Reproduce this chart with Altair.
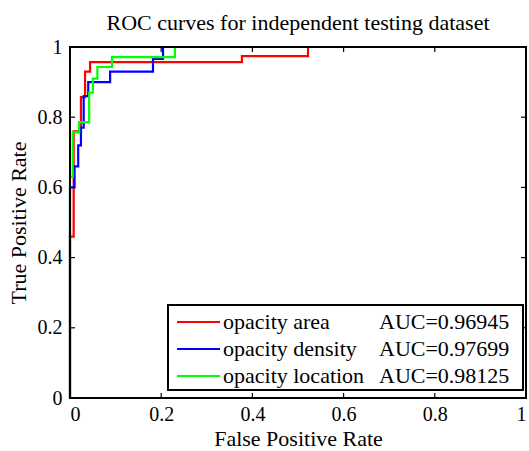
import altair as alt
import pandas as pd

series = ["opacity area", "opacity density", "opacity location"]
auc_labels = ["AUC=0.96945", "AUC=0.97699", "AUC=0.98125"]
colors = ["#ff0000", "#0000ff", "#00ff00"]

area_fpr = [0, 0, 0.008, 0.008, 0.024, 0.024, 0.033, 0.033, 0.044, 0.044, 0.377, 0.377, 0.522, 0.522, 1]
area_tpr = [0, 0.46, 0.46, 0.76, 0.76, 0.857, 0.857, 0.93, 0.93, 0.957, 0.957, 0.974, 0.974, 1, 1]

density_fpr = [0, 0, 0.01, 0.01, 0.018, 0.018, 0.024, 0.024, 0.03, 0.03, 0.04, 0.04, 0.088, 0.088, 0.182, 0.182, 0.204, 0.204, 1]
density_tpr = [0, 0.6, 0.6, 0.66, 0.66, 0.72, 0.72, 0.77, 0.77, 0.86, 0.86, 0.9, 0.9, 0.93, 0.93, 0.966, 0.966, 1, 1]

location_fpr = [0, 0, 0.006, 0.006, 0.02, 0.02, 0.042, 0.042, 0.05, 0.05, 0.06, 0.06, 0.092, 0.092, 0.23, 0.23, 1]
location_tpr = [0, 0.63, 0.63, 0.757, 0.757, 0.786, 0.786, 0.87, 0.87, 0.91, 0.91, 0.943, 0.943, 0.971, 0.971, 1, 1]

tick_values = [0, 0.2, 0.4, 0.6, 0.8, 1]

FONT = "'Liberation Serif', 'Times New Roman', Times, serif"
W, H = 456, 351

rows = []
for name, xs, ys in [(series[0], area_fpr, area_tpr),
                     (series[1], density_fpr, density_tpr),
                     (series[2], location_fpr, location_tpr)]:
    for i, (a, b) in enumerate(zip(xs, ys)):
        rows.append({"series": name, "fpr": a, "tpr": b, "order": i})
df = pd.DataFrame(rows)
ticks_df = pd.DataFrame({"tick": tick_values})
legend_df = pd.DataFrame({"name": series, "auc": auc_labels, "row": [0, 1, 2]})

color_scale = alt.Scale(domain=series, range=colors)
xscale = alt.Scale(domain=[0, 1], nice=False, zero=False)
yscale = alt.Scale(domain=[0, 1], nice=False, zero=False)

lines = alt.Chart(df).mark_line(strokeWidth=2.2, clip=False).encode(
    x=alt.X("fpr:Q", scale=xscale,
            axis=alt.Axis(values=tick_values, format="~g", title="False Positive Rate",
                          domain=False, ticks=False, grid=False, labelFontSize=20,
                          labelPadding=6, titleFontSize=22, titleFontWeight="normal",
                          titleY=47, titleBaseline="alphabetic", labelFont=FONT, titleFont=FONT,
                          labelColor="black", titleColor="black")),
    y=alt.Y("tpr:Q", scale=yscale,
            axis=alt.Axis(values=tick_values, format="~g", title="True Positive Rate",
                          domain=False, ticks=False, grid=False, labelFontSize=20,
                          labelPadding=8, titleFontSize=22, titleFontWeight="normal",
                          titleX=-52, titleY=H / 2, titleAngle=-90, titleBaseline="middle",
                          titleAlign="center", labelFont=FONT, titleFont=FONT,
                          labelColor="black", titleColor="black")),
    color=alt.Color("series:N", scale=color_scale, legend=None),
    order="order:Q",
    detail="series:N",
)

tl = 5
xt_bottom = alt.Chart(ticks_df).mark_rule(color="black", strokeWidth=1.2).encode(
    x=alt.X("tick:Q", scale=xscale), y=alt.value(H), y2=alt.value(H - tl))
xt_top = alt.Chart(ticks_df).mark_rule(color="black", strokeWidth=1.2).encode(
    x=alt.X("tick:Q", scale=xscale), y=alt.value(0), y2=alt.value(tl))
yt_left = alt.Chart(ticks_df).mark_rule(color="black", strokeWidth=1.2).encode(
    y=alt.Y("tick:Q", scale=yscale), x=alt.value(0), x2=alt.value(tl))
yt_right = alt.Chart(ticks_df).mark_rule(color="black", strokeWidth=1.2).encode(
    y=alt.Y("tick:Q", scale=yscale), x=alt.value(W), x2=alt.value(W - tl))

border = alt.Chart(ticks_df.head(1)).mark_rect(fill=None, stroke="black", strokeWidth=2).encode(
    x=alt.value(0), x2=alt.value(W), y=alt.value(0), y2=alt.value(H))

legend_box = alt.Chart(ticks_df.head(1)).mark_rect(fill="white", stroke="black", strokeWidth=2).encode(
    x=alt.value(98), x2=alt.value(453), y=alt.value(258), y2=alt.value(343))

leg_base = alt.Chart(legend_df).transform_calculate(ly="275 + datum.row * 27")
leg_lines = leg_base.mark_rule(strokeWidth=2.2).encode(
    y=alt.Y("ly:Q", scale=None), x=alt.value(107), x2=alt.value(150),
    color=alt.Color("name:N", scale=color_scale, legend=None))
leg_names = leg_base.mark_text(align="left", baseline="middle", font=FONT, fontSize=22, color="black").encode(
    y=alt.Y("ly:Q", scale=None), x=alt.value(153), text="name:N")
leg_auc = leg_base.mark_text(align="left", baseline="middle", font=FONT, fontSize=22, color="black").encode(
    y=alt.Y("ly:Q", scale=None), x=alt.value(309), text="auc:N")

chart = alt.layer(
    lines, xt_bottom, xt_top, yt_left, yt_right, border,
    legend_box, leg_lines, leg_names, leg_auc
).properties(
    width=W, height=H,
    padding={"left": 70, "top": 47, "right": 3, "bottom": 53},
    autosize="none",
    title=alt.TitleParams("ROC curves for independent testing dataset", font=FONT, fontSize=22,
                          fontWeight="normal", anchor="middle", frame="group", offset=4, dy=2,
                          color="black"),
).configure_view(stroke=None).configure(background="white")

chart.save("out.html", embed_options={"renderer": "svg", "actions": False})
